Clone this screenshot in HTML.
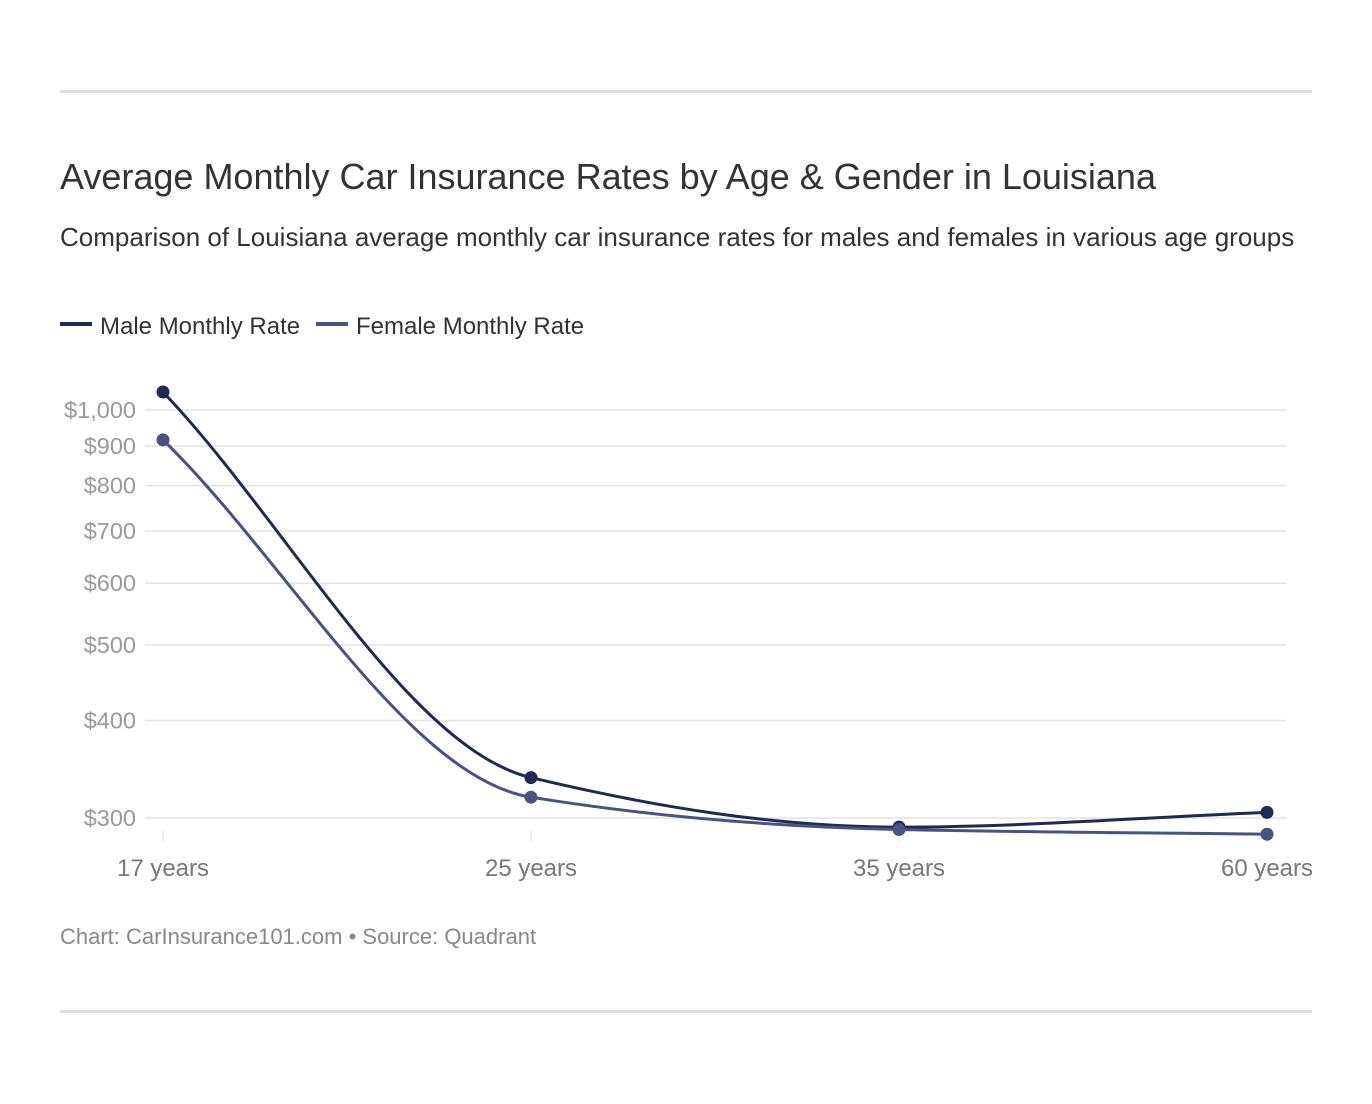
<!DOCTYPE html>
<html><head><meta charset="utf-8"><style>
body{margin:0;background:#fff;font-family:"Liberation Sans",sans-serif;}
.wrap{position:relative;width:1372px;height:1104px;}
.rule{position:absolute;left:60px;width:1252px;height:3px;background:#e0e0e0;}
h1{position:absolute;left:60px;top:156px;margin:0;font-size:36px;font-weight:normal;color:#333;}
.sub{position:absolute;left:60px;top:222px;font-size:26px;color:#333;white-space:nowrap;}
.foot{position:absolute;left:60px;top:924px;font-size:22px;color:#888;}
</style></head><body><div class="wrap">
<div class="rule" style="top:90px"></div>
<h1>Average Monthly Car Insurance Rates by Age &amp; Gender in Louisiana</h1>
<div class="sub">Comparison of Louisiana average monthly car insurance rates for males and females in various age groups</div>
<svg id="chart" width="1372" height="1104" style="position:absolute;left:0;top:0"></svg>
<div class="foot">Chart: CarInsurance101.com • Source: Quadrant</div>
<div class="rule" style="top:1010px"></div>
</div>
<script>
const categories=["17 years","25 years","35 years","60 years"];
const maleValues=[1055,338,292,305];
const femaleValues=[916,319,290,286];
const tickValues=[300,400,500,600,700,800,900,1000];
const tickLabels=["$300","$400","$500","$600","$700","$800","$900","$1,000"];
const seriesNames=["Male Monthly Rate","Female Monthly Rate"];
const colors=["#1f2a52","#4a5283"];
const NS="http://www.w3.org/2000/svg";
const svg=document.getElementById('chart');
function x(i){return 163+i*368;}
function y(v){return 818-(Math.log10(v)-Math.log10(300))*780;}
function mk(t,a){const e=document.createElementNS(NS,t);for(const k in a)e.setAttribute(k,a[k]);svg.appendChild(e);return e;}
tickValues.forEach((v,i)=>{
  const l=mk('line',{x1:145,x2:1286,y1:y(v),y2:y(v),stroke:'#e3e3e3','stroke-width':1.5});
  
  
  const t=mk('text',{x:136,y:y(v)+8,'text-anchor':'end','font-size':23.5,fill:'#999','font-family':'Liberation Sans'});
  t.textContent=tickLabels[i];
  
  
});
categories.forEach((c,i)=>{
  const l=mk('line',{x1:x(i),x2:x(i),y1:830,y2:842,stroke:'#ddd','stroke-width':1});
  
  
  const t=mk('text',{x:x(i),y:876,'text-anchor':'middle','font-size':24,fill:'#777','font-family':'Liberation Sans'});
  t.textContent=c;
  
  
});
function monotone(pts){
  const n=pts.length,d=[],m=[];
  for(let i=0;i<n-1;i++)d.push((pts[i+1][1]-pts[i][1])/(pts[i+1][0]-pts[i][0]));
  m[0]=d[0];m[n-1]=d[n-2];
  for(let i=1;i<n-1;i++){m[i]=d[i-1]*d[i]<=0?0:2/(1/d[i-1]+1/d[i]);}
  let s="M"+pts[0][0]+","+pts[0][1];
  for(let i=0;i<n-1;i++){const h=(pts[i+1][0]-pts[i][0])/3;
    s+=" C"+(pts[i][0]+h)+","+(pts[i][1]+m[i]*h)+" "+(pts[i+1][0]-h)+","+(pts[i+1][1]-m[i+1]*h)+" "+pts[i+1][0]+","+pts[i+1][1];}
  return s;
}
[maleValues,femaleValues].forEach((vals,si)=>{
  const pts=vals.map((v,i)=>[x(i),y(v)]);
  const p=mk('path',{d:monotone(pts),fill:'none',stroke:colors[si],'stroke-width':3});
  
  
  pts.forEach(q=>{const c=mk('circle',{cx:q[0],cy:q[1],r:6.5,fill:colors[si]});
    
    });
});
const legendX=[60,316];
seriesNames.forEach((n,i)=>{
  const lx=legendX[i];
  const l=mk('line',{x1:lx,x2:lx+32,y1:324,y2:324,stroke:colors[i],'stroke-width':4});
  
  
  const t=mk('text',{x:lx+40,y:334,'font-size':24,fill:'#333','font-family':'Liberation Sans'});
  t.textContent=n;
  
  
});
</script></body></html>
